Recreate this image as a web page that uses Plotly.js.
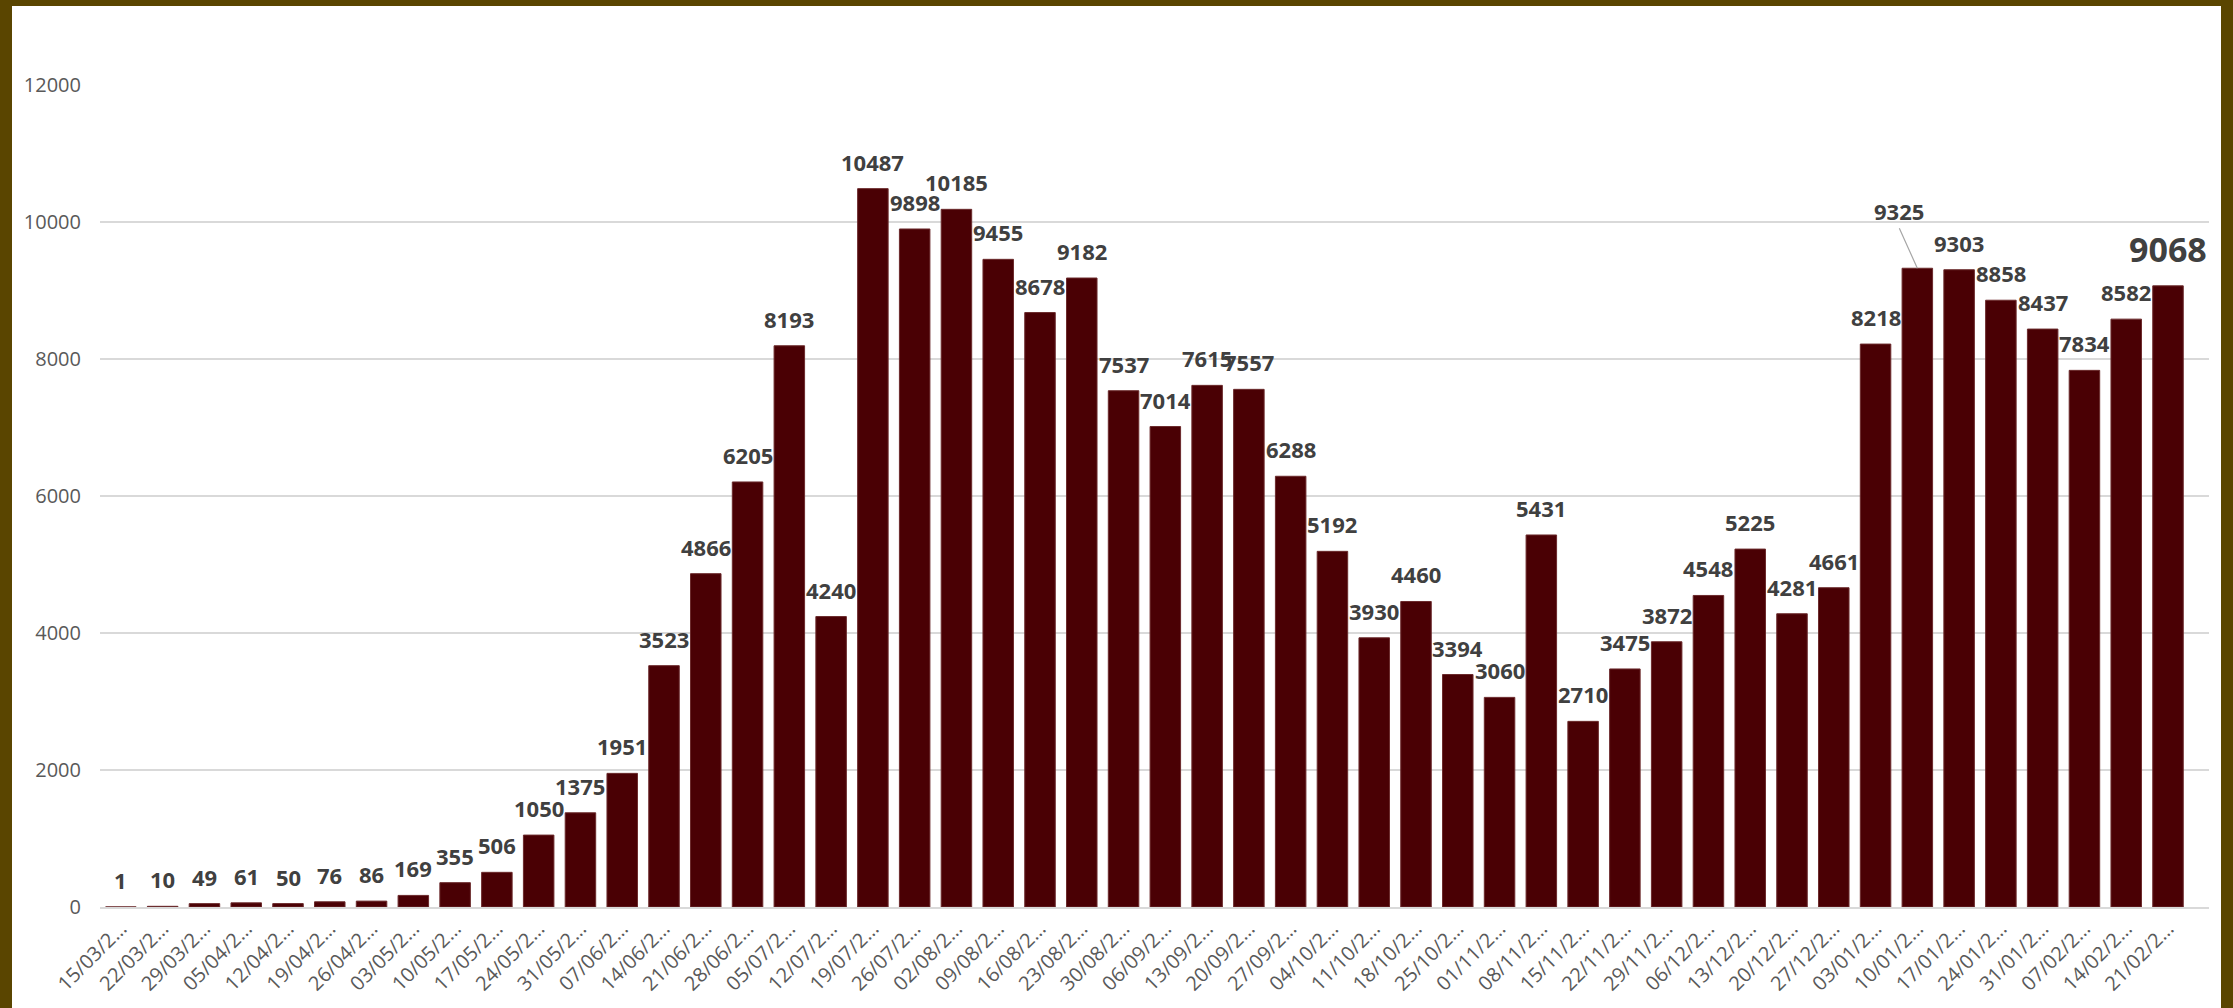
<!DOCTYPE html><html><head><script src="https://cdn.plot.ly/plotly-3.0.1.min.js"></script>
<style>html,body{margin:0;padding:0;background:#5a4500;width:2233px;height:1008px;overflow:hidden}
#c{position:absolute;left:12px;top:6px;width:2209px;height:1002px;background:#fff}</style></head><body><div id="c"></div><script>
const categories=["15/03/2…","22/03/2…","29/03/2…","05/04/2…","12/04/2…","19/04/2…","26/04/2…","03/05/2…","10/05/2…","17/05/2…","24/05/2…","31/05/2…","07/06/2…","14/06/2…","21/06/2…","28/06/2…","05/07/2…","12/07/2…","19/07/2…","26/07/2…","02/08/2…","09/08/2…","16/08/2…","23/08/2…","30/08/2…","06/09/2…","13/09/2…","20/09/2…","27/09/2…","04/10/2…","11/10/2…","18/10/2…","25/10/2…","01/11/2…","08/11/2…","15/11/2…","22/11/2…","29/11/2…","06/12/2…","13/12/2…","20/12/2…","27/12/2…","03/01/2…","10/01/2…","17/01/2…","24/01/2…","31/01/2…","07/02/2…","14/02/2…","21/02/2…"];
const values=[1,10,49,61,50,76,86,169,355,506,1050,1375,1951,3523,4866,6205,8193,4240,10487,9898,10185,9455,8678,9182,7537,7014,7615,7557,6288,5192,3930,4460,3394,3060,5431,2710,3475,3872,4548,5225,4281,4661,8218,9325,9303,8858,8437,7834,8582,9068];
const yTicks=[0,2000,4000,6000,8000,10000,12000];
const yTickText=["0","2000","4000","6000","8000","10000","12000"];
const ann=values.map((v,i)=>{
 const last=i===values.length-1;
 const a={x:categories[i],y:v,text:String(v),showarrow:false,yanchor:'bottom',yshift:last?12:10,
 font:{family:'Open Sans',size:last?34:22,color:'#404040',weight:'bold'}};
 if(v===9325){Object.assign(a,{showarrow:true,arrowhead:0,arrowwidth:1.2,arrowcolor:'#a6a6a6',ax:-18,ay:-40,yshift:0,standoff:0});}
 return a;});
Plotly.newPlot('c',[{type:'bar',x:categories,y:values,marker:{color:'#4a0004',line:{color:'#6b2a2c',width:1}},hoverinfo:'none'}],
{width:2209,height:1002,margin:{l:88,r:12,t:79,b:101},paper_bgcolor:'#fff',plot_bgcolor:'#fff',bargap:0.27,showlegend:false,annotations:ann,
xaxis:{type:'category',tickangle:-45,tickfont:{family:'Open Sans',size:20,color:'#595959'},showline:true,linecolor:'#d9d9d9',linewidth:2,ticks:''},
yaxis:{range:[0,12000],tickvals:yTicks,ticktext:yTickText,tickfont:{family:'Open Sans',size:20,color:'#595959'},gridcolor:'#d9d9d9',gridwidth:1.5,zeroline:false,ticklen:14,ticks:'outside',tickcolor:'#fff'}},
{staticPlot:true});
</script></body></html>
